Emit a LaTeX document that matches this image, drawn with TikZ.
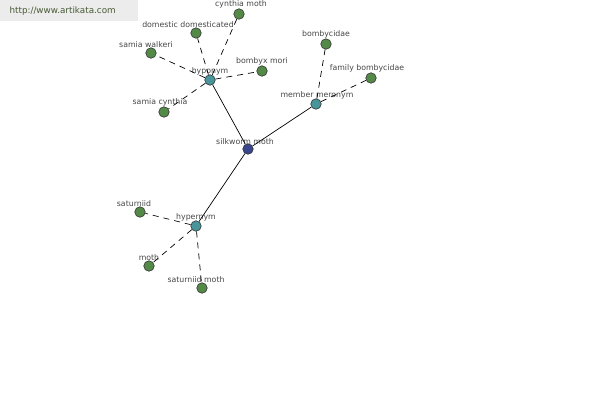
\documentclass[tikz,border=0pt]{standalone}
\usepackage{fontspec}
\setmainfont{DejaVu Sans}
\usetikzlibrary{positioning}
\definecolor{hoja}{RGB}{84,138,72}
\definecolor{enlace}{RGB}{72,150,156}
\definecolor{centro}{RGB}{58,70,140}
\definecolor{rotulo}{RGB}{70,70,70}
\definecolor{marca}{RGB}{236,236,236}
\definecolor{marcatexto}{RGB}{70,90,50}

\begin{document}
\begin{tikzpicture}[x=1pt, y=-1pt,
  punto/.style={circle, draw=black!80, line width=0.6pt, inner sep=0pt, minimum size=10.5pt},
  hojapunto/.style={punto, fill=hoja},
  enlacepunto/.style={punto, fill=enlace},
  rot/.style={font=\fontsize{7.8}{9}\selectfont, text=rotulo, inner sep=0pt},
  liga/.style={dash pattern=on 6pt off 5pt, line width=0.7pt},
  fuerte/.style={line width=0.7pt}]
\useasboundingbox (0,0) rectangle (600,400);
\fill[marca] (0,0) rectangle (138,21);
\node[font=\fontsize{8.8}{10}\selectfont, text=marcatexto, anchor=west] (web) at (6,11) {http://www.artikata.com};

% nodos
\node[punto, fill=centro, label={[rot, yshift=-1pt, xshift=-3pt]above:silkworm moth}] (silk) at (248,149) {};
\node[enlacepunto, label={[rot, yshift=-1pt]above:hyponym}] (hypo) at (210,80) {};
\node[enlacepunto, label={[rot, yshift=-1pt, xshift=1pt]above:member meronym}] (mero) at (316,104) {};
\node[enlacepunto, label={[rot, yshift=-1pt]above:hypernym}] (hyper) at (196,226) {};

\node[hojapunto, label={[rot, xshift=2pt]above:cynthia moth}] (cynthia) at (239,14) {};
\node[hojapunto, label={[rot, xshift=-8pt]above:domestic domesticated}] (domestic) at (196,33) {};
\node[hojapunto, label={[rot, xshift=-5pt]above:samia walkeri}] (walkeri) at (151,53) {};
\node[hojapunto, label={[rot]above:bombyx mori}] (bombyx) at (262,71) {};
\node[hojapunto, label={[rot, xshift=-4pt]above:samia cynthia}] (scynthia) at (164,112) {};
\node[hojapunto, label={[rot]above:bombycidae}] (bombycidae) at (326,44) {};
\node[hojapunto, label={[rot, xshift=-4pt]above:family bombycidae}] (family) at (371,78) {};
\node[hojapunto, label={[rot, xshift=-6pt]above:saturniid}] (saturniid) at (140,212) {};
\node[hojapunto, label={[rot]above:moth}] (moth) at (149,266) {};
\node[hojapunto, label={[rot, xshift=-6pt]above:saturniid moth}] (smoth) at (202,288) {};

% conexiones
\draw[fuerte] (silk) -- (hypo);
\draw[fuerte] (silk) -- (mero);
\draw[fuerte] (silk) -- (hyper);
\draw[liga] (hypo) -- (cynthia);
\draw[liga] (hypo) -- (domestic);
\draw[liga] (hypo) -- (walkeri);
\draw[liga] (hypo) -- (bombyx);
\draw[liga] (hypo) -- (scynthia);
\draw[liga] (mero) -- (bombycidae);
\draw[liga] (mero) -- (family);
\draw[liga] (hyper) -- (saturniid);
\draw[liga] (hyper) -- (moth);
\draw[liga] (hyper) -- (smoth);
\end{tikzpicture}
\end{document}
